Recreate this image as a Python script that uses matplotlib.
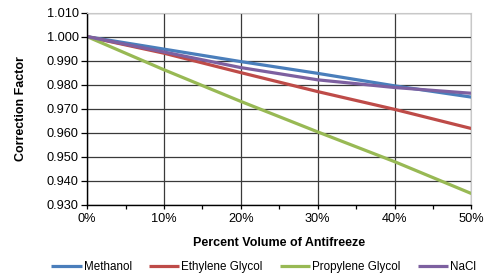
import matplotlib
matplotlib.use("Agg")
import matplotlib.pyplot as plt
from matplotlib.ticker import MultipleLocator, FuncFormatter

plt.rcParams['font.family'] = ['Liberation Sans', 'DejaVu Sans']

# percent volume of antifreeze
pct = [0, 10, 20, 30, 40, 50]

# correction factors
methanol = [1.000, 0.9948, 0.9896, 0.9847, 0.9795, 0.9748]
ethylene_glycol = [1.000, 0.9931, 0.9850, 0.9771, 0.9697, 0.9617]
propylene_glycol = [1.000, 0.9862, 0.9730, 0.9603, 0.9479, 0.9346]
nacl = [1.000, 0.9936, 0.9871, 0.9820, 0.9788, 0.9764]

series = [
    ('Methanol', methanol, '#4A7EBB'),
    ('Ethylene Glycol', ethylene_glycol, '#BE4B48'),
    ('Propylene Glycol', propylene_glycol, '#98B954'),
    ('NaCl', nacl, '#7D60A0'),
]

fig = plt.figure(figsize=(4.84, 2.75), dpi=100)
ax = fig.add_axes([0.18, 0.256, 0.794, 0.698])

for name, vals, col in series:
    ax.plot(pct, vals, color=col, lw=2.3, label=name, solid_capstyle='butt')

ax.set_xlim(0, 50)
ax.set_ylim(0.930, 1.010)
ax.xaxis.set_major_locator(MultipleLocator(10))
ax.xaxis.set_minor_locator(MultipleLocator(5))
ax.yaxis.set_major_locator(MultipleLocator(0.01))
ax.xaxis.set_major_formatter(FuncFormatter(lambda v, p: f'{v:.0f}%'))
ax.yaxis.set_major_formatter(FuncFormatter(lambda v, p: f'{v:.3f}'))

ax.grid(True, which='major', color='#3a3a3a', lw=0.9)
ax.set_axisbelow(True)
for s in ['top', 'right']:
    ax.spines[s].set_color('#c8c8c8')
for s in ['left', 'bottom']:
    ax.spines[s].set_color('black')
    ax.spines[s].set_linewidth(1.0)

ax.tick_params(axis='both', which='major', labelsize=9.2, length=4, width=0.9, direction='out', pad=2)
ax.tick_params(axis='x', which='minor', length=3, width=0.9, direction='out')
ax.tick_params(axis='x', which='major', length=3, pad=3)

ax.set_xlabel('Percent Volume of Antifreeze', fontsize=9, fontweight='bold', labelpad=9)
ax.set_ylabel('Correction Factor', fontsize=9, fontweight='bold', labelpad=14)

fig.legend(loc='center', bbox_to_anchor=(0.545, 0.029), ncol=4, frameon=False,
           fontsize=8.4, handlelength=2.6, handletextpad=0.15, columnspacing=1.5)

fig.savefig('out.png', dpi=100)
